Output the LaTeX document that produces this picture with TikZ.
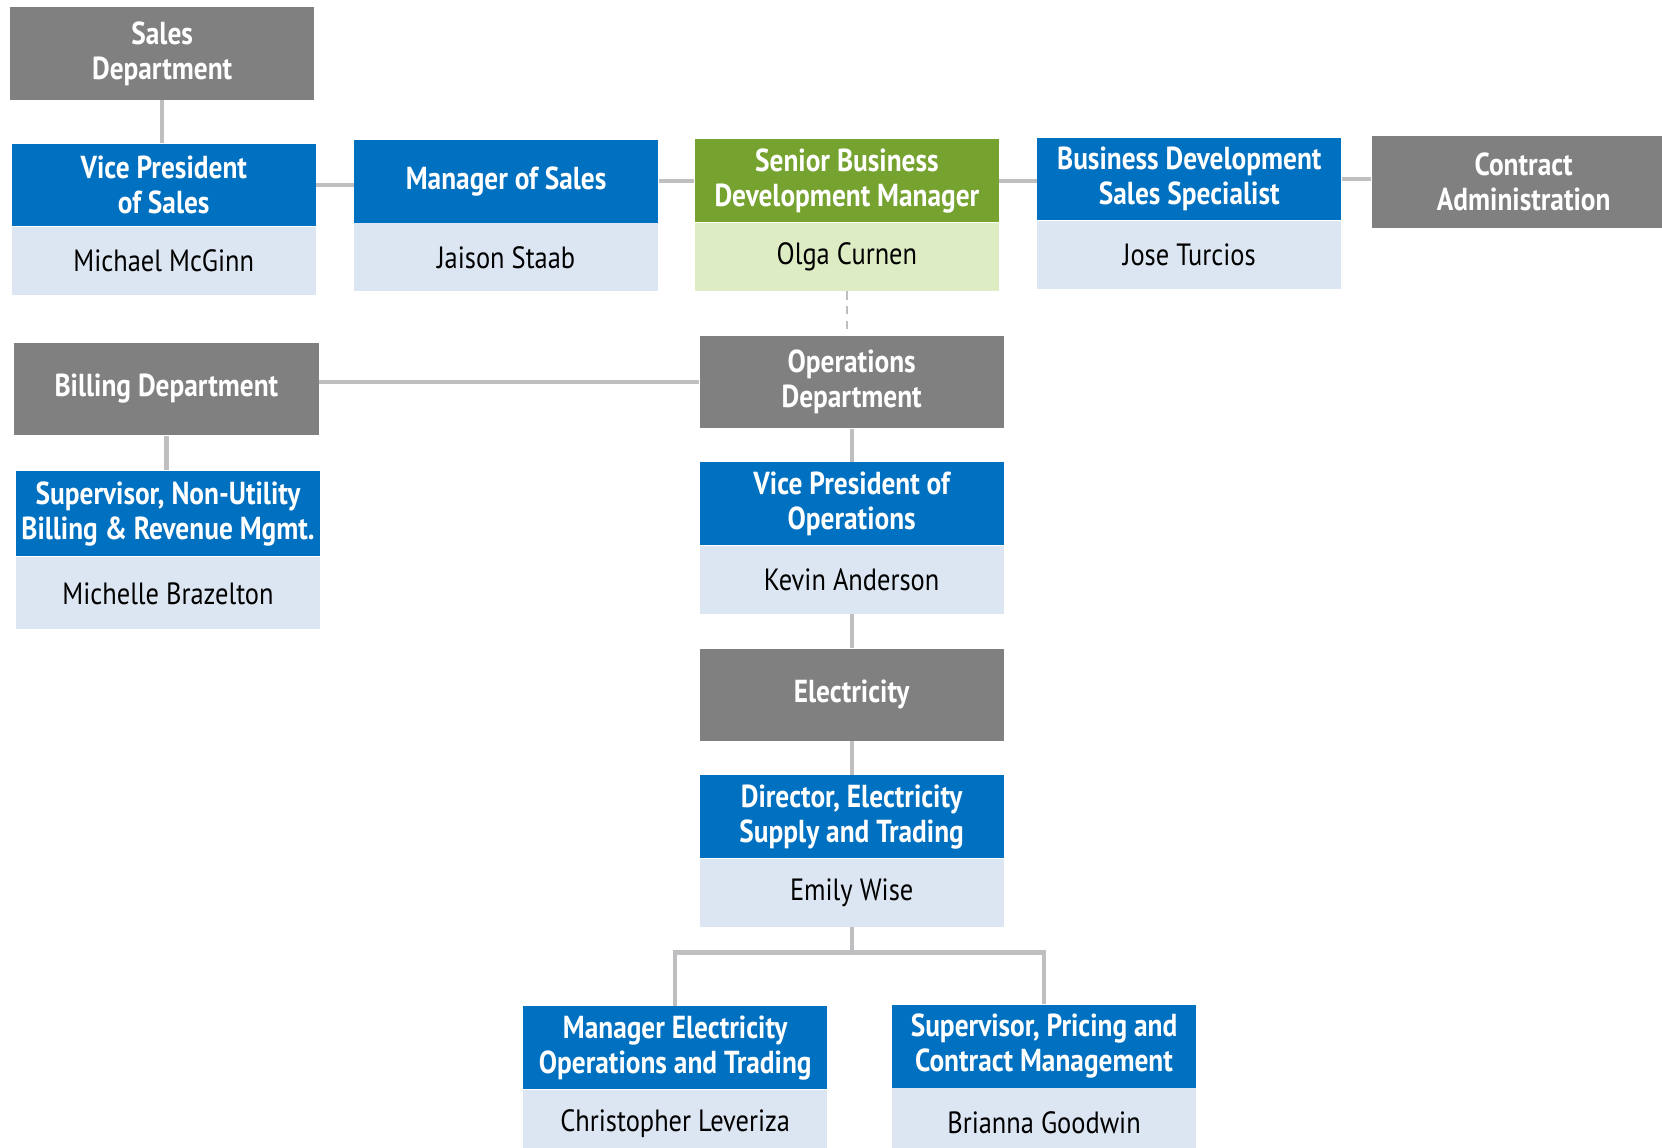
\documentclass[tikz,border=0pt]{standalone}
\usepackage{fontspec}
\setmainfont{PT Sans}[FakeStretch=0.86]
\usetikzlibrary{positioning}
\definecolor{deptgray}{RGB}{128,128,128}
\definecolor{hdrblue}{RGB}{0,112,192}
\definecolor{namebg}{RGB}{220,230,242}
\definecolor{hdrgreen}{RGB}{118,162,48}
\definecolor{namegreen}{RGB}{222,236,196}
\definecolor{linkgray}{RGB}{191,191,193}
\tikzset{
  dept/.style={fill=deptgray, text=white, font=\fontsize{15}{16.5}\selectfont\bfseries,
    minimum width=143.5pt, minimum height=43.5pt, align=center, inner sep=0pt},
  title/.style={fill=hdrblue, text=white, font=\fontsize{15}{16.5}\selectfont\bfseries,
    minimum width=143.5pt, minimum height=39pt, align=center, inner sep=0pt},
  person/.style={fill=namebg, text=black, font=\fontsize{14.5}{16.5}\selectfont,
    minimum width=143.5pt, minimum height=32pt, align=center, inner sep=0pt},
  link/.style={draw=linkgray, line width=2pt}
}
\begin{document}
\begin{tikzpicture}[x=0.5pt, y=-0.5pt]
  \useasboundingbox (0,0) rectangle (1568,1083);
  % sales side
  \node[dept] (sales) at (153,50.5) {Sales\\Department};
  \node[title] (vps) at (154.5,174.5) {Vice President\\of Sales};
  \node[person, below=0pt of vps] (vpsname) {Michael McGinn};
  \node[title] (mgr) at (477.5,171) {Manager of Sales};
  \node[person, below=0pt of mgr] (mgrname) {Jaison Staab};
  \node[title, fill=hdrgreen] (sbdm) at (799,170.5) {Senior Business\\Development Manager};
  \node[person, fill=namegreen, below=0pt of sbdm] (sbdmname) {Olga Curnen};
  \node[title] (bdss) at (1122,169) {Business Development\\Sales Specialist};
  \node[person, below=0pt of bdss] (bdssname) {Jose Turcios};
  \node[dept] (contract) at (1437.5,171.5) {Contract\\Administration};
  % billing
  \node[dept] (billing) at (157,367) {Billing Department};
  \node[title, minimum height=40.5pt] (supnu) at (158.5,484.5) {Supervisor, Non-Utility\\Billing \& Revenue Mgmt.};
  \node[person, minimum height=34pt, below=0pt of supnu] (supnuname) {Michelle Brazelton};
  % operations
  \node[dept] (ops) at (803.5,360.5) {Operations\\Department};
  \node[title] (vpo) at (803.5,475) {Vice President of\\Operations};
  \node[person, below=0pt of vpo] (vponame) {Kevin Anderson};
  \node[dept] (elec) at (803.5,655.5) {Electricity};
  \node[title] (dir) at (803.5,770.5) {Director, Electricity\\Supply and Trading};
  \node[person, below=0pt of dir] (dirname) {Emily Wise};
  \node[title] (mgrel) at (637,988.5) {Manager Electricity\\Operations and Trading};
  \node[person, below=0pt of mgrel] (mgrelname) {Christopher Leveriza};
  \node[title] (suppr) at (985,987) {Supervisor, Pricing and\\Contract Management};
  \node[person, below=0pt of suppr] (supprname) {Brianna Goodwin};
  \coordinate[below=12pt of dirname] (fork);
  % connectors
  \draw[link] (sales.south) -- (sales.south |- vps.north);
  \draw[link] (vps.east) -- (vps.east -| mgr.west);
  \draw[link] (mgr.east) -- (mgr.east -| sbdm.west);
  \draw[link] (sbdm.east) -- (sbdm.east -| bdss.west);
  \draw[link] (bdss.east) -- (bdss.east -| contract.west);
  \draw[link, line width=1.2pt, dash pattern=on 4pt off 3pt] (sbdmname.south) -- (sbdmname.south |- ops.north);
  \draw[link] (ops.west -| billing.east) -- (ops.west);
  \draw[link] (billing.south) -- (billing.south |- supnu.north);
  \draw[link] (ops.south) -- (vpo.north);
  \draw[link] (vponame.south) -- (elec.north);
  \draw[link] (elec.south) -- (dir.north);
  \draw[link] (dirname.south) -- (fork) -| (mgrel.north);
  \draw[link] (fork) -| (suppr.north);
\end{tikzpicture}
\end{document}
